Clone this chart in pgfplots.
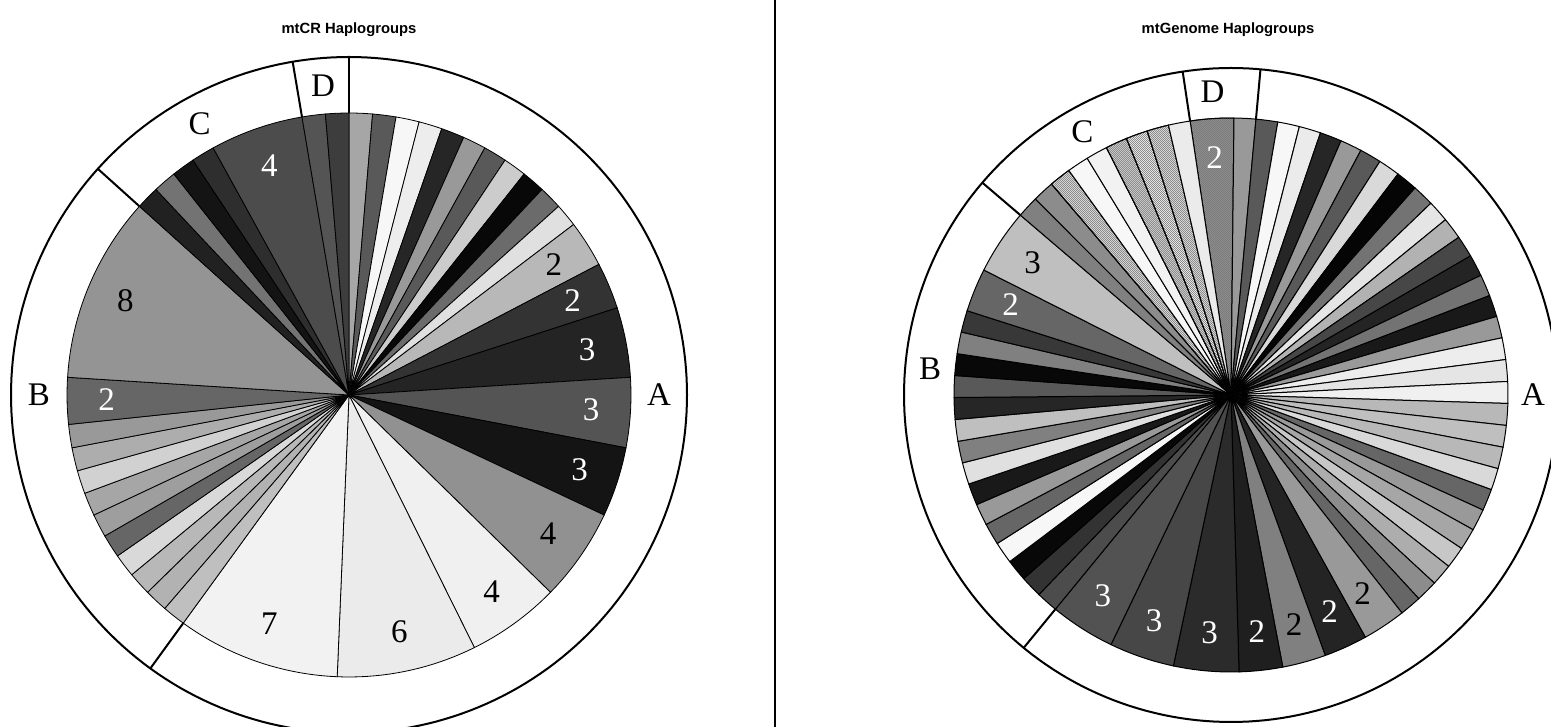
\documentclass[border=0pt]{standalone}
\usepackage{pgfplots}
\pgfplotsset{compat=1.18}
\usetikzlibrary{patterns}
\usepackage{fontspec}
\setmainfont{Liberation Serif}
\newfontfamily\titlefont{Liberation Sans}

\newcommand\labfont{\fontsize{16.5}{18}\selectfont}
\newcommand\ttlfont{\titlefont\bfseries\fontsize{7.4}{8}\selectfont}

% fine stipple used for the screened wedges
\pgfdeclarepatternformonly{stipple}{\pgfpointorigin}{\pgfqpoint{1.2pt}{1.2pt}}{\pgfqpoint{1.2pt}{1.2pt}}{%
  \pgfpathrectangle{\pgfpointorigin}{\pgfqpoint{0.6pt}{0.6pt}}%
  \pgfpathrectangle{\pgfqpoint{0.6pt}{0.6pt}}{\pgfqpoint{0.6pt}{0.6pt}}%
  \pgfusepath{fill}}

% current pie: centre, inner radius, ring radius, running angle, degrees per sample
\newcommand\pieinit[6]{\xdef\pcx{#1}\xdef\pcy{#2}\xdef\pr{#3}\xdef\pR{#4}\xdef\pang{#5}\xdef\punit{#6}}
\newcommand\edgewidth{0.4pt}

% wedges drawn clockwise; each entry is count/darkness (percent black);
% a darkness above 100 means a stippled wedge on a base of (darkness-100)
\newcommand\slices[1]{%
  \foreach \n/\d in {#1}{%
    \pgfmathsetmacro\anew{\pang-\n*\punit}%
    \pgfmathtruncatemacro\ns{3*\n+2}%
    \ifnum\d>100
      \pgfmathtruncatemacro\dd{\d-100}%
      \edef\fillopt{fill=black!\dd, postaction={pattern=stipple, pattern color=black!45}}%
    \else
      \edef\fillopt{fill=black!\d}%
      \let\dd\d
    \fi
    \edef\temp{\noexpand\addplot[\fillopt, draw=black, line width=\edgewidth,
      domain=\anew:\pang, samples=\ns, variable=\noexpand\t]
      ({\pcx+\pr*cos(\noexpand\t)},{\pcy+\pr*sin(\noexpand\t)})
      -- (axis cs:\pcx,\pcy) -- cycle;}%
    \temp
    \ifnum\n>1
      \pgfmathsetmacro\amid{(\pang+\anew)/2}%
      \pgfmathsetmacro\lx{\pcx+0.86*\pr*cos(\amid)}%
      \pgfmathsetmacro\ly{\pcy+0.86*\pr*sin(\amid)}%
      \ifnum\dd>50 \def\lc{white}\else\def\lc{black}\fi
      \edef\temp{\noexpand\node[text=\lc, font=\noexpand\labfont, inner sep=0pt]
        at (axis cs:\lx,\ly) {\n};}%
      \temp
    \fi
    \xdef\pang{\anew}%
  }%
}

% haplogroup boundary in the outer ring, at the running angle
\newcommand\ringline{%
  \pgfmathsetmacro\xa{\pcx+\pr*cos(\pang)}%
  \pgfmathsetmacro\ya{\pcy+\pr*sin(\pang)}%
  \pgfmathsetmacro\xb{\pcx+\pR*cos(\pang)}%
  \pgfmathsetmacro\yb{\pcy+\pR*sin(\pang)}%
  \edef\temp{\noexpand\addplot[black, line width=1pt] coordinates {(\xa,\ya) (\xb,\yb)};}%
  \temp
}

\newcommand\outercircle{%
  \edef\temp{\noexpand\addplot[black, line width=1pt, domain=0:360, samples=241,
    variable=\noexpand\t] ({\pcx+\pR*cos(\noexpand\t)},{\pcy+\pR*sin(\noexpand\t)});}%
  \temp
}

\newcommand\grouplabel[3]{% angle, radius, text
  \pgfmathsetmacro\lx{\pcx+#2*cos(#1)}%
  \pgfmathsetmacro\ly{\pcy+#2*sin(#1)}%
  \edef\temp{\noexpand\node[font=\noexpand\labfont, inner sep=0pt] at (axis cs:\lx,\ly) {#3};}%
  \temp
}

\begin{document}
\begin{tikzpicture}
\begin{axis}[
  x=0.5pt, y=0.5pt,
  xmin=0, xmax=1551, ymin=0, ymax=727,
  hide axis, clip=true,
]
\addplot[draw=none] coordinates {(0,0) (1551,727)};

% ---------------- mtCR (75 samples) ----------------
\pieinit{349}{332}{282}{338}{90}{4.8}
\outercircle
\ringline
% A
\slices{1/35,1/65,1/3,1/7,1/85,1/40,1/65,1/20,1/97,1/58,1/12,
        2/28,2/80,3/86,3/67,3/92,4/43,4/6,6/8,7/5}
\ringline
% B
\slices{1/25,1/30,1/28,1/15,1/60,1/38,1/35,1/18,1/32,1/40,2/60,8/42}
\ringline
% C
\slices{1/87,1/55,1/92,1/82,4/70}
\ringline
% D
\slices{1/67,1/76}
\grouplabel{0}{310}{A}
\grouplabel{180}{310}{B}
\grouplabel{118.8}{310}{C}
\grouplabel{94.8}{310}{D}
\node[font=\ttlfont] at (axis cs:349,697) {mtCR Haplogroups};

% ---------------- mtGenome (79 samples) ----------------
\renewcommand\edgewidth{0.5pt}
\pieinit{1231}{332}{277}{327}{98.5}{4.557}
\outercircle
\ringline
% D
\slices{2/152,1/40}
\ringline
% A
\slices{1/65,1/3,1/8,1/85,1/40,1/65,1/15,1/98,1/55,1/10,1/30,
        1/72,1/86,1/55,1/90,1/40,1/7,1/10,1/6,
        1/28,1/25,1/28,1/15,1/60,1/40,1/35,1/22,1/32,1/45,1/60,
        2/40,2/86,2/50,2/88,3/83,3/72,3/68}
\ringline
% B
\slices{1/70,1/80,1/97,1/3,1/60,1/40,1/90,1/12,1/50,1/25,1/85,1/65,1/97,1/50,1/78,
        2/60,3/25}
\ringline
% C
\slices{1/50,1/45,1/112,1/3,1/5,1/118,1/105,1/112,1/8}
\grouplabel{0}{302}{A}
\grouplabel{175}{302}{B}
\grouplabel{119.5}{302}{C}
\grouplabel{93.5}{304}{D}
\node[font=\ttlfont] at (axis cs:1228,697) {mtGenome Haplogroups};

% panel divider
\addplot[black, line width=1pt] coordinates {(775,0) (775,727)};
\end{axis}
\end{tikzpicture}
\end{document}
